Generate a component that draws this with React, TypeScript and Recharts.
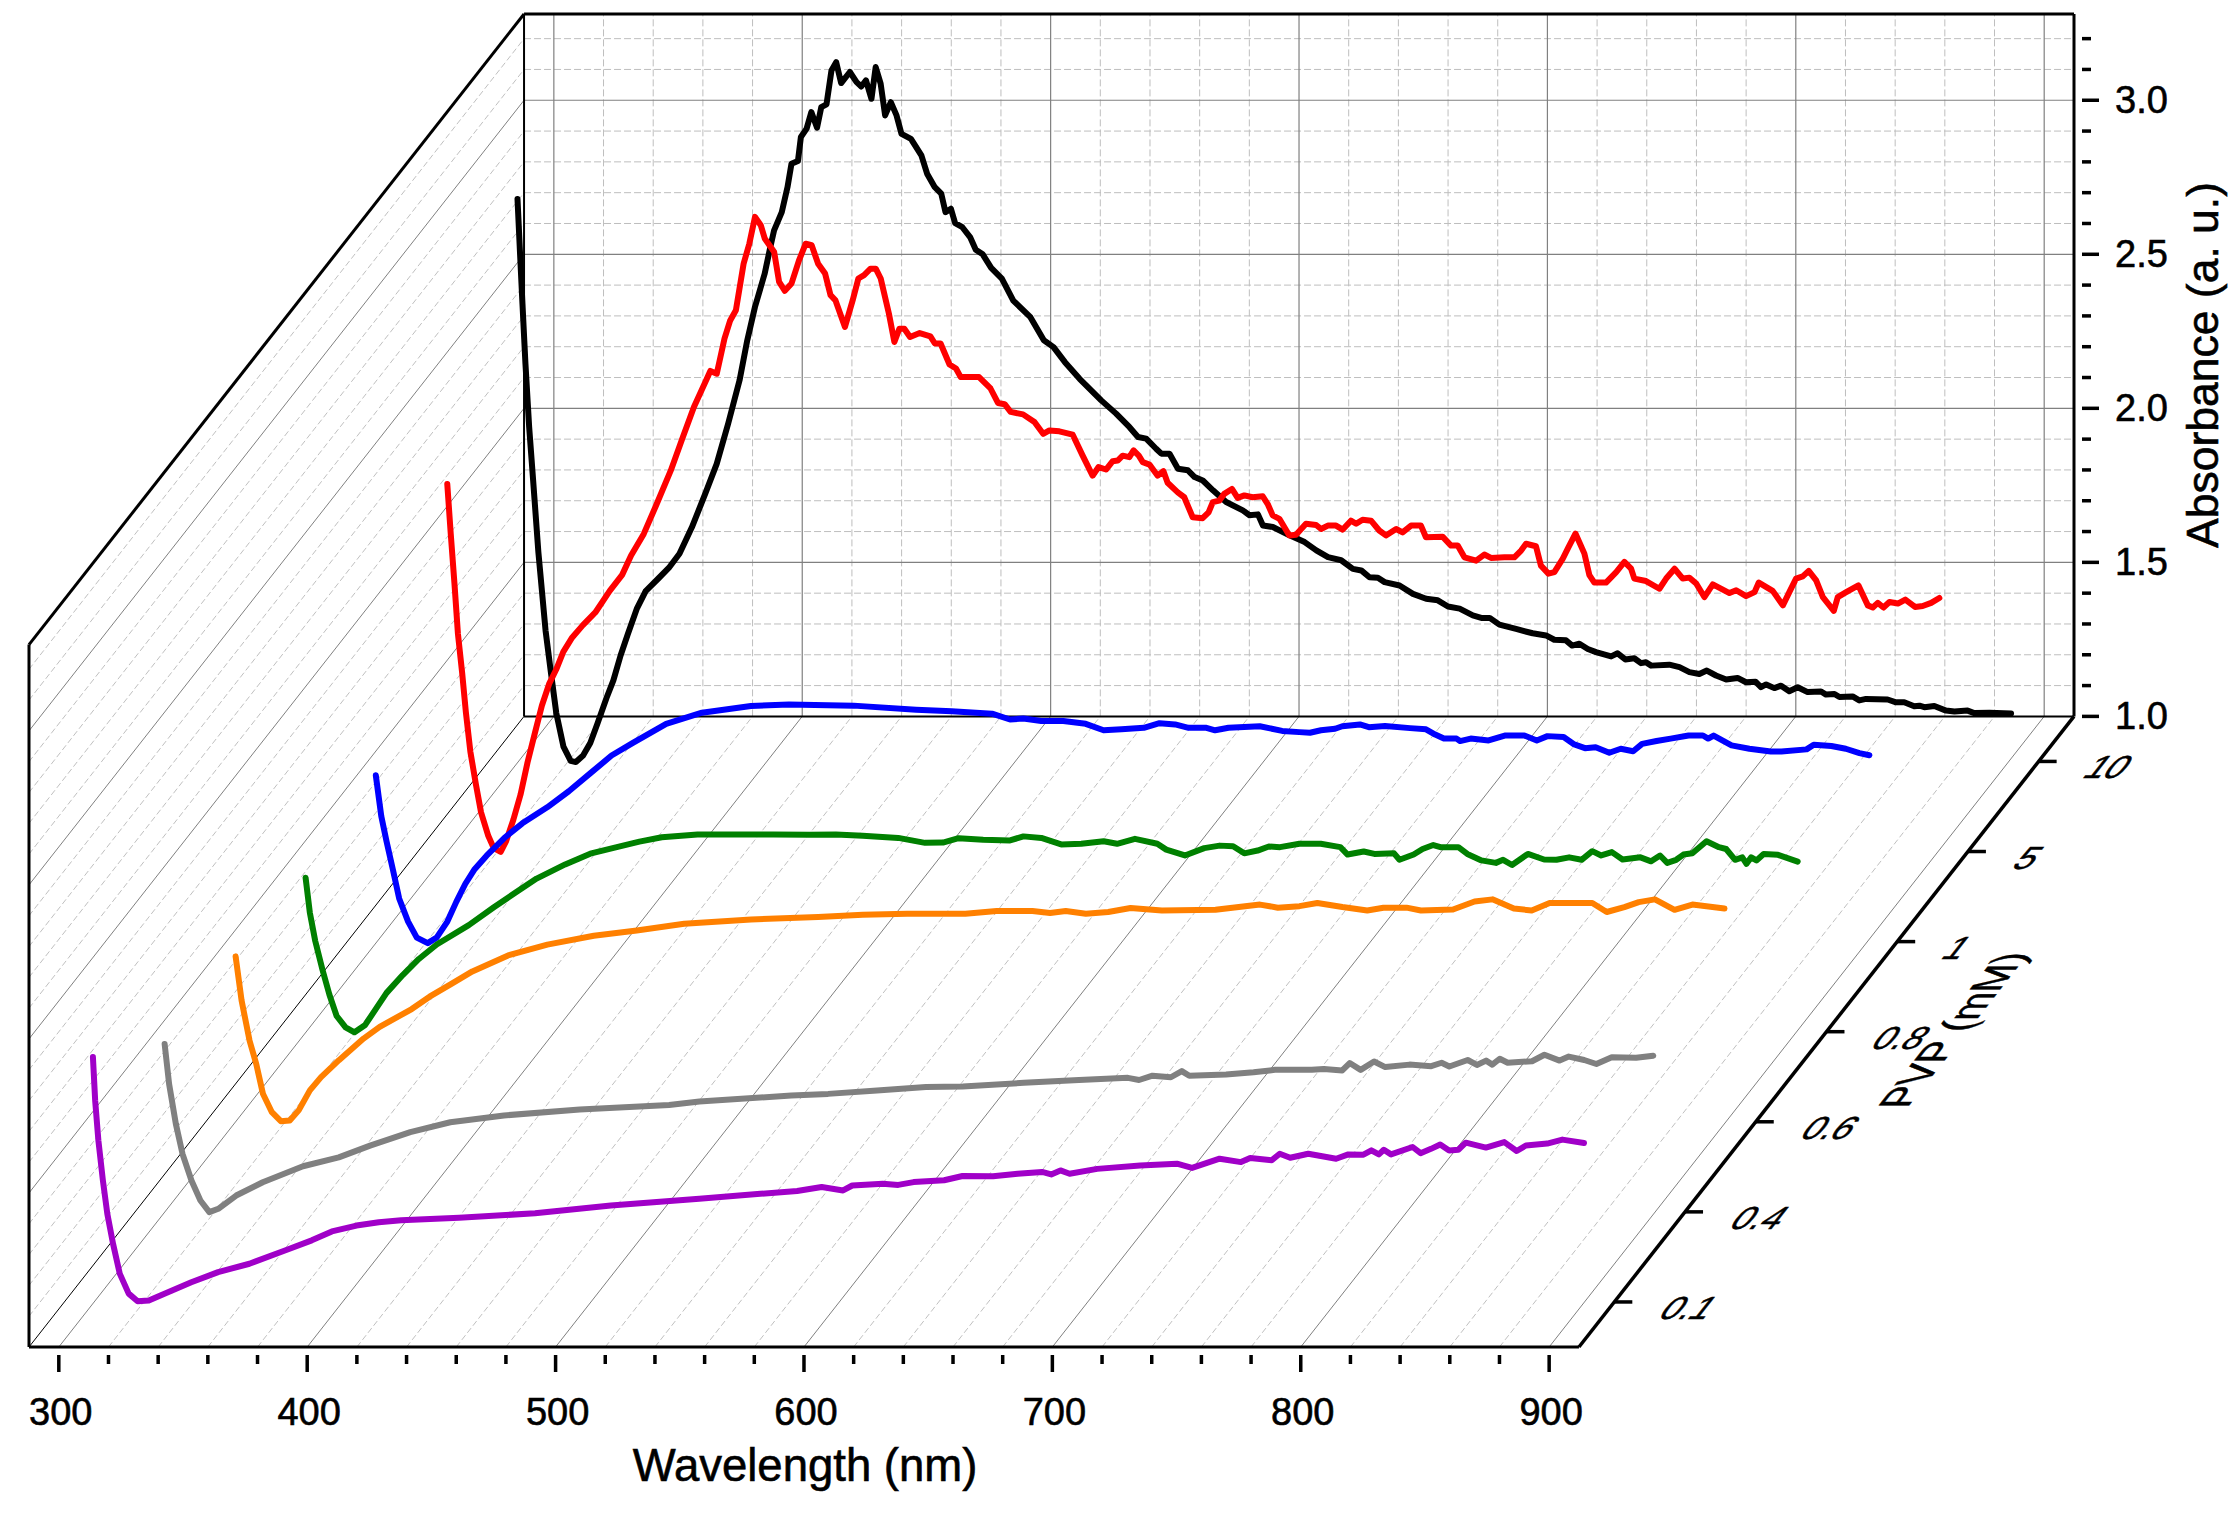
import React from 'react';
import { ComposedChart, Line, XAxis, YAxis, ReferenceLine, ReferenceDot } from 'recharts';

type Pt = [number, number];

// wavelength (nm), absorbance (a. u.) for each PVP concentration
const purplePts: Pt[] = [[299.5,1.795],[300.4,1.654],[301.7,1.524],[303.5,1.395],[305.3,1.286],[307.6,1.189],[310.3,1.092],[313.9,1.027],[317.5,1.002],[322,1.005],[328.3,1.027],[339.1,1.064],[349.9,1.097],[362.5,1.124],[376.8,1.167],[387.6,1.2],[395.7,1.229],[405.6,1.248],[414.6,1.259],[423.6,1.265],[446.9,1.273],[477.5,1.288],[508,1.313],[543.6,1.335],[568.2,1.351],[583,1.36],[592.9,1.373],[601.5,1.362],[605.2,1.378],[617.5,1.384],[623.7,1.38],[629.9,1.389],[642.2,1.395],[649.6,1.409],[661.9,1.408],[671.8,1.416],[681.6,1.422],[685.3,1.414],[689,1.427],[692.7,1.416],[703.8,1.432],[721.1,1.443],[735.9,1.449],[742,1.435],[753.1,1.465],[761.7,1.454],[765.4,1.467],[774.1,1.46],[777.3,1.481],[781.5,1.468],[788.8,1.481],[800,1.465],[804.9,1.479],[811,1.478],[814.2,1.492],[817.2,1.479],[819.2,1.494],[822.1,1.479],[830.8,1.503],[834,1.483],[838.2,1.497],[841.9,1.511],[845.5,1.492],[849.2,1.494],[852.2,1.517],[860.3,1.501],[867.7,1.519],[872.7,1.49],[876.4,1.508],[885,1.514],[891.1,1.527],[899.8,1.516]];

const grayPts: Pt[] = [[299.9,1.545],[301.7,1.415],[304.4,1.286],[307.1,1.188],[310.7,1.102],[314.3,1.037],[317.9,0.999],[321.5,1.01],[328.7,1.053],[339.4,1.096],[355.6,1.148],[370,1.177],[382.6,1.215],[398.8,1.259],[414.9,1.291],[436.5,1.313],[467,1.332],[503,1.347],[515.2,1.358],[552.2,1.378],[567,1.383],[586.7,1.394],[606.4,1.405],[621.2,1.407],[645.8,1.419],[668,1.428],[687.7,1.435],[692.2,1.428],[697.6,1.442],[705,1.437],[709.4,1.457],[712.4,1.442],[727.2,1.446],[738.3,1.453],[746.9,1.461],[761.7,1.461],[766.6,1.464],[774,1.459],[777,1.483],[781.4,1.461],[786.8,1.488],[791.3,1.47],[801.1,1.478],[809.8,1.473],[814,1.484],[817.1,1.472],[824.5,1.493],[828.2,1.477],[831.9,1.491],[834.4,1.478],[837.4,1.497],[840.6,1.484],[850.4,1.489],[855.4,1.51],[861.5,1.491],[865.2,1.504],[871.4,1.493],[876.3,1.48],[882.5,1.502],[892.3,1.5],[899.2,1.507]];

const orangePts: Pt[] = [[300,1.537],[302.4,1.394],[305.6,1.264],[308.3,1.188],[311,1.091],[314.6,1.031],[318.2,1.002],[321.8,1.004],[325.4,1.037],[329.9,1.102],[334.4,1.145],[341.6,1.2],[351.5,1.27],[358,1.308],[370.9,1.366],[378.1,1.406],[386.7,1.447],[395.3,1.488],[409.7,1.54],[425.5,1.575],[444.2,1.604],[461.5,1.621],[480.6,1.643],[507.5,1.657],[534.5,1.665],[552.5,1.672],[570.4,1.675],[593.8,1.675],[606.4,1.684],[620.8,1.684],[627.9,1.678],[634.2,1.684],[642.3,1.675],[651.3,1.681],[660.3,1.694],[672.9,1.686],[694.5,1.688],[712.4,1.705],[719.6,1.695],[728.3,1.7],[735.5,1.71],[745.6,1.697],[755.6,1.686],[762.1,1.695],[771.4,1.695],[777.2,1.686],[790.1,1.689],[798.8,1.715],[806,1.722],[814.6,1.692],[821.8,1.686],[829,1.71],[846.2,1.71],[852,1.681],[859.1,1.697],[864.9,1.713],[871.4,1.722],[879.3,1.688],[886.5,1.705],[899.4,1.692]];

const greenPts: Pt[] = [[299.7,1.5],[301.4,1.387],[303.6,1.294],[306.5,1.201],[309.3,1.12],[312.2,1.051],[315.8,1.014],[319.4,0.998],[323.7,1.022],[328,1.074],[332.3,1.126],[338.8,1.184],[345.3,1.236],[352.5,1.283],[365.4,1.346],[375.5,1.404],[384.1,1.451],[392.7,1.497],[404.2,1.543],[414.3,1.578],[425.8,1.601],[434.1,1.617],[443.1,1.631],[457.5,1.64],[488,1.64],[502.4,1.639],[513.2,1.64],[524,1.636],[538.3,1.629],[549.1,1.613],[556.3,1.614],[562.6,1.628],[572.5,1.623],[583.3,1.621],[588.7,1.634],[595.9,1.629],[603.9,1.608],[612,1.61],[621,1.618],[626.4,1.61],[633.6,1.626],[642.6,1.61],[646.2,1.591],[653.7,1.572],[661.5,1.596],[667.7,1.604],[673.1,1.602],[677.6,1.579],[683,1.588],[687.5,1.601],[692,1.599],[699.8,1.61],[708.4,1.61],[716.3,1.599],[719.2,1.575],[725.7,1.585],[730,1.577],[737.9,1.579],[740.1,1.558],[745.8,1.575],[749.4,1.593],[753.7,1.606],[756.6,1.599],[763.8,1.599],[767.4,1.577],[773.1,1.556],[778.9,1.548],[781.8,1.558],[785.4,1.541],[791.8,1.577],[798.3,1.559],[803.3,1.558],[808.4,1.566],[813.4,1.558],[817.7,1.586],[821.3,1.572],[825.6,1.583],[829.9,1.559],[837.1,1.566],[841.4,1.553],[845,1.572],[847.9,1.548],[851.5,1.558],[854.4,1.575],[858,1.579],[863.7,1.618],[868.7,1.599],[871.6,1.593],[875.2,1.558],[878.1,1.566],[879.8,1.545],[881.7,1.566],[883.8,1.556],[886.7,1.577],[892.5,1.574],[900.4,1.552]];

const bluePts: Pt[] = [[299.5,1.54],[301.7,1.407],[303.8,1.326],[306.4,1.233],[308.9,1.14],[312.5,1.065],[316,1.013],[320.4,0.995],[324,1.013],[328.3,1.065],[331.9,1.129],[335.5,1.187],[339.1,1.233],[344.1,1.279],[351.3,1.337],[358.5,1.384],[368.5,1.436],[377.2,1.488],[385.8,1.546],[394.4,1.604],[403,1.645],[416.4,1.707],[430.8,1.743],[450.5,1.765],[465.8,1.77],[491.9,1.766],[517,1.753],[531.4,1.748],[547.6,1.74],[554.8,1.721],[560.2,1.724],[567.4,1.716],[576.3,1.716],[585.3,1.707],[592.5,1.686],[599.7,1.689],[608.7,1.694],[615,1.709],[621.3,1.705],[626.7,1.694],[633.9,1.694],[637.4,1.686],[642.8,1.694],[655.4,1.699],[664.4,1.684],[671.3,1.68],[675.6,1.678],[680,1.686],[685.7,1.691],[688.6,1.699],[695.7,1.705],[699.3,1.696],[705.8,1.7],[715.9,1.693],[722.3,1.689],[726,1.672],[729.5,1.659],[734.6,1.659],[736,1.651],[740.3,1.659],[747.5,1.653],[754,1.669],[761.9,1.669],[766.9,1.653],[771.2,1.667],[777.7,1.664],[782,1.64],[786.3,1.628],[790.6,1.631],[796.1,1.613],[800.7,1.626],[805.7,1.618],[809.3,1.642],[815.1,1.651],[820.8,1.659],[828,1.669],[833.8,1.669],[835.9,1.659],[838.1,1.669],[845.3,1.637],[852.5,1.626],[861.1,1.617],[865.4,1.617],[875.5,1.624],[878.4,1.639],[885.5,1.635],[891.3,1.626],[896.8,1.612],[900.8,1.605]];

const redPts: Pt[] = [[299.8,2.193],[301.2,2.031],[302.7,1.869],[304.1,1.706],[305.8,1.579],[307.3,1.451],[309.1,1.324],[311.3,1.219],[313.4,1.127],[316.3,1.051],[318.5,1.011],[321.3,0.999],[323.5,1.034],[326.4,1.103],[329.3,1.185],[332.1,1.289],[335,1.382],[337.9,1.474],[340.8,1.544],[343.6,1.59],[346.5,1.648],[350.1,1.695],[354.4,1.735],[359.4,1.776],[365.2,1.846],[370.2,1.898],[373.8,1.961],[378.9,2.031],[383.9,2.124],[389.8,2.237],[394.4,2.34],[399.1,2.443],[403.7,2.524],[405.7,2.56],[408.3,2.551],[411.4,2.665],[413.7,2.724],[416,2.757],[419.1,2.908],[421.4,2.973],[423.7,3.06],[426,3.033],[427.6,2.99],[431.4,2.946],[433.4,2.849],[435.7,2.82],[438.4,2.844],[441.4,2.919],[444.1,2.973],[446.5,2.968],[449.1,2.908],[451.9,2.876],[454.1,2.806],[456.1,2.789],[459.9,2.703],[463,2.789],[465.3,2.86],[467.6,2.871],[470.2,2.892],[472.3,2.892],[474.3,2.86],[477.6,2.746],[479.8,2.654],[481.8,2.697],[483.8,2.697],[486.1,2.67],[490,2.683],[494.3,2.672],[496.1,2.649],[498.4,2.649],[502,2.581],[504.6,2.568],[506.5,2.54],[513.9,2.54],[518.5,2.503],[521.5,2.456],[524.2,2.452],[526.6,2.427],[531.6,2.419],[536.2,2.394],[539.7,2.356],[542.2,2.367],[546.2,2.364],[551.6,2.353],[555.6,2.285],[559.6,2.22],[562,2.248],[565,2.24],[567.7,2.267],[569.7,2.269],[571.7,2.285],[574.4,2.28],[576.1,2.302],[578.2,2.285],[579.8,2.264],[582.5,2.256],[585.8,2.22],[588.1,2.235],[589.8,2.197],[593.9,2.166],[596.5,2.15],[599.9,2.085],[603.9,2.082],[606.3,2.101],[608,2.134],[610.6,2.139],[612.6,2.161],[615.7,2.177],[618,2.148],[620.7,2.156],[624,2.15],[628.1,2.153],[630.1,2.128],[632.1,2.091],[634.8,2.08],[638.8,2.026],[641.5,2.028],[645.5,2.064],[649.6,2.06],[651.6,2.047],[654.3,2.058],[657.6,2.058],[660.3,2.045],[663.6,2.074],[665.7,2.064],[668.3,2.077],[671.7,2.074],[675,2.042],[677.7,2.026],[681.8,2.047],[684.4,2.036],[687.8,2.058],[691.8,2.058],[693.8,2.02],[700.5,2.022],[703.9,1.993],[706.6,1.993],[709.3,1.955],[714,1.944],[717.3,1.964],[720,1.953],[725.4,1.955],[729.4,1.955],[732.1,1.977],[734.1,1.999],[738.1,1.991],[740.1,1.928],[743.1,1.902],[745.5,1.907],[748.9,1.951],[750.9,1.983],[754,2.032],[757.6,1.967],[759.6,1.897],[761.6,1.873],[766.3,1.873],[770.4,1.907],[773.7,1.94],[776.4,1.918],[777.7,1.886],[782.4,1.878],[787.8,1.853],[790.5,1.886],[793.9,1.918],[797.2,1.886],[799.9,1.889],[802.6,1.87],[805.9,1.826],[809.3,1.867],[816,1.839],[818.7,1.848],[822.7,1.829],[826.1,1.842],[827.8,1.873],[833.4,1.846],[837.5,1.799],[840.1,1.842],[842.8,1.886],[845.5,1.893],[847.9,1.911],[850.9,1.88],[853.6,1.826],[858,1.781],[859.6,1.826],[863,1.842],[867.9,1.864],[871.7,1.799],[873.7,1.792],[875.7,1.807],[878,1.792],[880.4,1.81],[883.8,1.805],[886.8,1.818],[890.7,1.794],[893.8,1.797],[897.2,1.807],[900.5,1.823]];

const blackPts: Pt[] = [[299.6,2.826],[300.5,2.67],[301.6,2.485],[302.8,2.291],[304.3,2.085],[305.9,1.912],[308,1.68],[310.9,1.425],[313.1,1.286],[315.2,1.158],[318.1,1.048],[321,1.002],[323.1,0.998],[326,1.019],[328.9,1.06],[331.8,1.123],[335.4,1.205],[338.2,1.263],[341.1,1.344],[344,1.413],[347.6,1.495],[351.2,1.553],[356.2,1.593],[360.5,1.628],[364.8,1.674],[369.8,1.76],[375.2,1.869],[379.8,1.966],[384.4,2.096],[389,2.237],[392.1,2.367],[395.2,2.475],[399.1,2.583],[401.4,2.67],[402.9,2.724],[406,2.783],[408.3,2.864],[409.9,2.94],[412.5,2.949],[413.7,3.027],[416,3.054],[417.9,3.108],[420.2,3.057],[421.9,3.124],[424,3.133],[426,3.243],[427.9,3.27],[429.9,3.202],[433.4,3.238],[436.1,3.205],[438,3.191],[439.9,3.211],[442.1,3.151],[443.8,3.254],[445.8,3.2],[447.6,3.097],[449.9,3.14],[452.2,3.097],[454.2,3.037],[458,3.021],[462.2,2.967],[464.5,2.908],[467.6,2.864],[470.2,2.843],[471.9,2.783],[474.1,2.794],[475.8,2.747],[478.7,2.734],[481.8,2.702],[484.1,2.661],[486.9,2.646],[490.3,2.602],[494.6,2.567],[499.2,2.496],[506.1,2.442],[511.5,2.367],[515.4,2.345],[520,2.296],[525.9,2.242],[534.6,2.172],[540.6,2.129],[546,2.085],[549.4,2.053],[552.7,2.048],[556.7,2.015],[558.8,1.999],[562.1,1.999],[565.5,1.95],[569.5,1.945],[572.2,1.923],[575.5,1.912],[579.6,1.88],[584.9,1.842],[591.6,1.815],[594.3,1.799],[597.7,1.802],[599.7,1.766],[603.7,1.761],[610.4,1.734],[616.5,1.712],[621.2,1.685],[625.9,1.663],[631.2,1.653],[635.9,1.625],[639.3,1.62],[642.6,1.598],[646,1.596],[648.7,1.582],[654.7,1.571],[660.1,1.544],[665.4,1.528],[670.1,1.523],[674.2,1.503],[678.9,1.496],[684.2,1.474],[687.6,1.466],[691,1.466],[694.9,1.444],[701.6,1.43],[708.3,1.416],[713.7,1.409],[717,1.395],[721.7,1.393],[724.2,1.376],[727.1,1.382],[730.5,1.365],[733.8,1.355],[739.9,1.341],[742.5,1.351],[745.6,1.331],[749.2,1.335],[751.9,1.319],[753.9,1.322],[756,1.311],[763.3,1.314],[767.4,1.306],[771.4,1.29],[775.4,1.284],[778.4,1.295],[782.1,1.279],[786.2,1.266],[790.8,1.271],[794.2,1.257],[798,1.259],[800.2,1.241],[802.3,1.25],[805.6,1.238],[808.3,1.246],[811.6,1.228],[815,1.241],[819,1.225],[824.4,1.227],[826.4,1.217],[829.8,1.219],[831.8,1.209],[837.1,1.211],[839.8,1.198],[842.5,1.203],[851.2,1.201],[854.6,1.192],[857.9,1.192],[861.9,1.179],[864,1.181],[866,1.176],[870,1.18],[874.7,1.165],[878.1,1.162],[883.4,1.165],[886.1,1.157],[892.2,1.158],[900.9,1.156]];

const seriesList = [purplePts, grayPts, orangePts, greenPts, bluePts, redPts, blackPts];
const seriesColors = ['#A000C8', '#808080', '#FF8000', '#008000', '#0000FF', '#FF0000', '#000000'];
const depthLabels = ['0.1', '0.4', '0.6', '0.8', '1', '5', '10'];

const wlMajor = [300, 400, 500, 600, 700, 800, 900];
const wlMinor = [320, 340, 360, 380, 420, 440, 460, 480, 520, 540, 560, 580, 620, 640, 660, 680, 720, 740, 760, 780, 820, 840, 860, 880];
const absMajor = [1.5, 2, 2.5, 3];
const absMinor = [1.1, 1.2, 1.3, 1.4, 1.6, 1.7, 1.8, 1.9, 2.1, 2.2, 2.3, 2.4, 2.6, 2.7, 2.8, 2.9, 3.1, 3.2];

const WL_MIN = 288;
const WL_MAX = 912;
const ABS_MIN = 1;
const ABS_MAX = 3.28;
// oblique projection of the depth axis, in wavelength and absorbance units
const DEPTH_X = 199.3;
const DEPTH_Y = 2.047;

const slot = (i: number) => (i + 0.5) / depthLabels.length;

const FONT = '"Liberation Sans", Arial, sans-serif';
const textStyle = { fontFamily: FONT, fill: '#000', stroke: '#000', strokeWidth: 0.6 };

const segment = (key: string, x1: number, y1: number, x2: number, y2: number, stroke: string, strokeWidth: number, dash?: string) => (
  <ReferenceLine
    key={key}
    segment={[{ x: x1, y: y1 }, { x: x2, y: y2 }]}
    stroke={stroke}
    strokeWidth={strokeWidth}
    strokeDasharray={dash}
    ifOverflow="visible"
  />
);

const XTick = ({ x, y, payload }: any) => {
  const major = payload.value % 100 === 0;
  return (
    <g>
      <line x1={x} y1={y} x2={x} y2={y + (major ? 17 : 9)} stroke="#000" strokeWidth={3.5} />
      {major && (
        <text x={x + 2} y={y + 70} textAnchor="middle" fontSize={38} {...textStyle}>
          {payload.value}
        </text>
      )}
    </g>
  );
};

const YTick = ({ x, y, payload }: any) => {
  const major = Math.round(payload.value * 10) % 5 === 0;
  return (
    <g>
      <line x1={x} y1={y} x2={x + (major ? 17 : 9)} y2={y} stroke="#000" strokeWidth={3.5} />
      {major && (
        <text x={x + 33} y={y + 13} fontSize={38} {...textStyle}>
          {payload.value.toFixed(1)}
        </text>
      )}
    </g>
  );
};

const DepthTick = (label: string) => ({ cx, cy }: any) => (
  <g>
    <line x1={cx} y1={cy} x2={cx + 18} y2={cy} stroke="#000" strokeWidth={3.5} />
    <text transform={`matrix(0.92,0,-0.66,0.84,${cx + 42},${cy + 17})`} fontSize={38} {...textStyle}>
      {label}
    </text>
  </g>
);

export default function App() {
  const floorY = ABS_MIN - DEPTH_Y;
  return (
    <div style={{ position: 'absolute', left: 0, top: 0, width: 2238, height: 1514, background: '#fff' }}>
      <ComposedChart
        width={2238}
        height={1514}
        margin={{ top: 14, left: 29, right: 64, bottom: 67 }}
      >
        <XAxis
          xAxisId={0}
          dataKey="x"
          type="number"
          domain={[WL_MIN, WL_MAX + DEPTH_X]}
          ticks={[...wlMajor, ...wlMinor].sort((a, b) => a - b)}
          interval={0}
          height={100}
          axisLine={false}
          tickLine={false}
          tick={<XTick />}
          allowDataOverflow
        />
        <YAxis
          yAxisId={0}
          orientation="right"
          type="number"
          domain={[floorY, ABS_MAX]}
          ticks={[1, ...absMajor, ...absMinor].sort((a, b) => a - b)}
          interval={0}
          width={100}
          axisLine={false}
          tickLine={false}
          tick={<YTick />}
          allowDataOverflow
        />

        {/* floor */}
        {wlMinor.map((w) => segment(`fm${w}`, w, floorY, w + DEPTH_X, ABS_MIN, '#C0C0C0', 1, '6 3'))}
        {wlMajor.map((w) => segment(`fM${w}`, w, floorY, w + DEPTH_X, ABS_MIN, '#808080', 1))}

        {/* left wall */}
        {absMinor.map((a) => segment(`lm${a}`, WL_MIN, a - DEPTH_Y, WL_MIN + DEPTH_X, a, '#C0C0C0', 1, '6 3'))}
        {absMajor.map((a) => segment(`lM${a}`, WL_MIN, a - DEPTH_Y, WL_MIN + DEPTH_X, a, '#808080', 1))}

        {/* back wall */}
        {wlMinor.map((w) => segment(`bm${w}`, w + DEPTH_X, ABS_MIN, w + DEPTH_X, ABS_MAX, '#BEBEBE', 1, '7 3'))}
        {absMinor.map((a) => segment(`bh${a}`, WL_MIN + DEPTH_X, a, WL_MAX + DEPTH_X, a, '#BEBEBE', 1, '7 3'))}
        {wlMajor.map((w) => segment(`bM${w}`, w + DEPTH_X, ABS_MIN, w + DEPTH_X, ABS_MAX, '#808080', 1.2))}
        {absMajor.map((a) => segment(`bH${a}`, WL_MIN + DEPTH_X, a, WL_MAX + DEPTH_X, a, '#808080', 1.2))}

        {/* frame */}
        {segment('e1', WL_MIN, floorY, WL_MIN + DEPTH_X, ABS_MIN, '#000', 1)}
        {segment('e2', WL_MIN + DEPTH_X, ABS_MIN, WL_MAX + DEPTH_X, ABS_MIN, '#000', 2)}
        {segment('e3', WL_MIN + DEPTH_X, ABS_MIN, WL_MIN + DEPTH_X, ABS_MAX, '#000', 2)}
        {segment('e4', WL_MIN, floorY, WL_MAX, floorY, '#000', 3)}
        {segment('e5', WL_MIN, floorY, WL_MIN, ABS_MAX - DEPTH_Y, '#000', 3)}
        {segment('e6', WL_MIN, ABS_MAX - DEPTH_Y, WL_MIN + DEPTH_X, ABS_MAX, '#000', 3)}
        {segment('e7', WL_MIN + DEPTH_X, ABS_MAX, WL_MAX + DEPTH_X, ABS_MAX, '#000', 3)}
        {segment('e8', WL_MAX + DEPTH_X, ABS_MIN, WL_MAX + DEPTH_X, ABS_MAX, '#000', 3)}
        {segment('e9', WL_MAX, floorY, WL_MAX + DEPTH_X, ABS_MIN, '#000', 3.5)}

        {depthLabels.map((label, i) => (
          <ReferenceDot
            key={label}
            x={WL_MAX + DEPTH_X * slot(i)}
            y={floorY + DEPTH_Y * slot(i)}
            ifOverflow="visible"
            shape={DepthTick(label)}
          />
        ))}

        {/* back series first so the front ones overlap them */}
        {seriesList
          .map((pts, i) => (
            <Line
              key={i}
              data={pts.map(([w, a]) => ({ x: w + DEPTH_X * slot(i), y: a - DEPTH_Y * (1 - slot(i)) }))}
              dataKey="y"
              type="linear"
              stroke={seriesColors[i]}
              strokeWidth={6}
              strokeLinejoin="round"
              strokeLinecap="round"
              dot={false}
              activeDot={false}
              isAnimationActive={false}
              legendType="none"
            />
          ))
          .reverse()}

        <text x={805} y={1481} textAnchor="middle" fontSize={45.5} {...textStyle}>
          Wavelength (nm)
        </text>
        <text transform="translate(2218,365) rotate(-90)" textAnchor="middle" fontSize={44.5} {...textStyle}>
          Absorbance (a. u.)
        </text>
        <text transform="matrix(0.604,-0.769,1,0,1907,1108)" fontSize={44} {...textStyle}>
          PVP (mM)
        </text>
      </ComposedChart>
    </div>
  );
}
